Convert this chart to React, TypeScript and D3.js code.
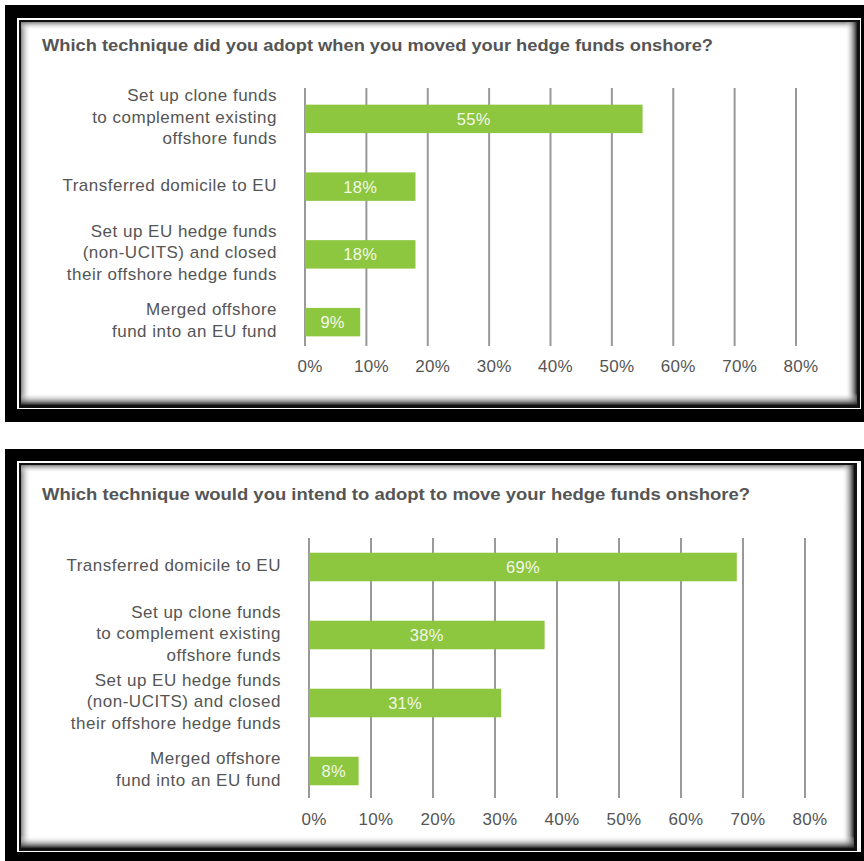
import React from "react";
import * as d3 from "d3";

const topTitle = "Which technique did you adopt when you moved your hedge funds onshore?";
const topCategories = [
  "Set up clone funds\nto complement existing\noffshore funds",
  "Transferred domicile to EU",
  "Set up EU hedge funds\n(non-UCITS) and closed\ntheir offshore hedge funds",
  "Merged offshore\nfund into an EU fund",
];
const topValues = [55, 18, 18, 9];

const bottomTitle = "Which technique would you intend to adopt to move your hedge funds onshore?";
const bottomCategories = [
  "Transferred domicile to EU",
  "Set up clone funds\nto complement existing\noffshore funds",
  "Set up EU hedge funds\n(non-UCITS) and closed\ntheir offshore hedge funds",
  "Merged offshore\nfund into an EU fund",
];
const bottomValues = [69, 38, 31, 8];

const tickValues = [0, 10, 20, 30, 40, 50, 60, 70, 80];

const W = 864;
const H = 861;
const GREEN = "#8DC63F";
const TEXT = "#555555";
const FONT = "'Liberation Sans', Arial, sans-serif";

type Frame = { outerTop: number; outerBottom: number; x0: number; y0: number; x1: number; y1: number; id: string };

function PanelFrame({ f }: { f: Frame }) {
  const { x0, y0, x1, y1, id } = f;
  return (
    <g>
      <defs>
        <linearGradient id={`${id}-l`} x1="0" x2="1" y1="0" y2="0">
          <stop offset="0" stopColor="#777" stopOpacity="0.9" />
          <stop offset="1" stopColor="#fff" stopOpacity="0" />
        </linearGradient>
        <linearGradient id={`${id}-t`} x1="0" x2="0" y1="0" y2="1">
          <stop offset="0" stopColor="#777" stopOpacity="0.9" />
          <stop offset="1" stopColor="#fff" stopOpacity="0" />
        </linearGradient>
        <linearGradient id={`${id}-r`} x1="1" x2="0" y1="0" y2="0">
          <stop offset="0" stopColor="#222" stopOpacity="1" />
          <stop offset="1" stopColor="#fff" stopOpacity="0" />
        </linearGradient>
        <linearGradient id={`${id}-b`} x1="0" x2="0" y1="1" y2="0">
          <stop offset="0" stopColor="#222" stopOpacity="1" />
          <stop offset="1" stopColor="#fff" stopOpacity="0" />
        </linearGradient>
      </defs>
      <rect x={5} y={f.outerTop} width={W} height={f.outerBottom - f.outerTop} fill="#000" />
      <rect x={17} y={y0 - 4} width={861 - 17} height={y1 - y0 + 8} fill="#fff" />
      <rect x={19} y={y0 - 2} width={x1 - 19 + 3} height={y1 - y0 + 5} fill="#111" />
      <rect x={x0} y={y0} width={x1 - x0} height={y1 - y0} fill="#fff" />
      <rect x={x0} y={y0} width={10} height={y1 - y0} fill={`url(#${id}-l)`} />
      <rect x={x0} y={y0} width={x1 - x0} height={8} fill={`url(#${id}-t)`} />
      <rect x={x1 - 12} y={y0} width={12} height={y1 - y0} fill={`url(#${id}-r)`} />
      <rect x={x0} y={y1 - 12} width={x1 - x0} height={12} fill={`url(#${id}-b)`} />
    </g>
  );
}

type ChartProps = {
  title: string;
  titleY: number;
  titleLen: number;
  categories: string[];
  values: number[];
  xRange: [number, number];
  yRange: [number, number];
  gridTop: number;
  gridBottom: number;
  tickY: number;
  labelX: number;
};

function BarChart(p: ChartProps) {
  const x = d3.scaleLinear().domain([0, 80]).range(p.xRange);
  const y = d3
    .scaleBand<string>()
    .domain(p.categories)
    .range(p.yRange)
    .paddingInner(0.58)
    .paddingOuter(0.29);
  const lineH = 21.5;
  return (
    <g fontFamily={FONT}>
      <text
        x={42}
        y={p.titleY}
        fontSize={16}
        fontWeight="bold"
        fill={TEXT}
        textLength={p.titleLen}
        lengthAdjust="spacingAndGlyphs"
      >
        {p.title}
      </text>
      {tickValues.map((t) => (
        <line
          key={"g" + t}
          x1={x(t)}
          x2={x(t)}
          y1={p.gridTop}
          y2={p.gridBottom}
          stroke="#999"
          strokeWidth={2}
        />
      ))}
      {tickValues.map((t) => (
        <text
          key={"t" + t}
          x={x(t) + 5}
          y={p.tickY}
          fontSize={17}
          letterSpacing={0.3}
          textAnchor="middle"
          fill={TEXT}
        >
          {t}%
        </text>
      ))}
      {p.categories.map((c, i) => {
        const cy = (y(c) as number) + y.bandwidth() / 2;
        const lines = c.split("\n");
        const start = cy - 2 - ((lines.length - 1) * lineH) / 2;
        return (
          <g key={c}>
            <rect x={x(0)} y={y(c)} width={x(p.values[i]) - x(0)} height={y.bandwidth()} fill={GREEN} />
            <text
              x={(x(0) + x(p.values[i])) / 2}
              y={cy}
              dy="0.36em"
              fontSize={16.5}
              letterSpacing={0.3}
              textAnchor="middle"
              fill="#f3f8ea"
            >
              {p.values[i]}%
            </text>
            {lines.map((l, j) => (
              <text
                key={j}
                x={p.labelX}
                y={start + j * lineH}
                dy="0.36em"
                fontSize={17}
                letterSpacing={0.5}
                textAnchor="end"
                fill={TEXT}
              >
                {l}
              </text>
            ))}
          </g>
        );
      })}
    </g>
  );
}

export default function App() {
  return (
    <svg
      width={W}
      height={H}
      viewBox={`0 0 ${W} ${H}`}
      style={{ position: "absolute", left: 0, top: 0, background: "#fff" }}
    >
      <rect x={0} y={0} width={W} height={H} fill="#fff" />
      <PanelFrame f={{ id: "p1", outerTop: 5, outerBottom: 422, x0: 21, y0: 22, x1: 857, y1: 405 }} />
      <PanelFrame f={{ id: "p2", outerTop: 449, outerBottom: 866, x0: 21, y0: 465, x1: 854, y1: 848 }} />
      <BarChart
        title={topTitle}
        titleY={51}
        titleLen={671}
        categories={topCategories}
        values={topValues}
        xRange={[305, 796]}
        yRange={[85, 356]}
        gridTop={88}
        gridBottom={346}
        tickY={372}
        labelX={277}
      />
      <BarChart
        title={bottomTitle}
        titleY={500}
        titleLen={708}
        categories={bottomCategories}
        values={bottomValues}
        xRange={[309, 805]}
        yRange={[533, 805]}
        gridTop={538}
        gridBottom={798}
        tickY={825}
        labelX={281}
      />
    </svg>
  );
}
